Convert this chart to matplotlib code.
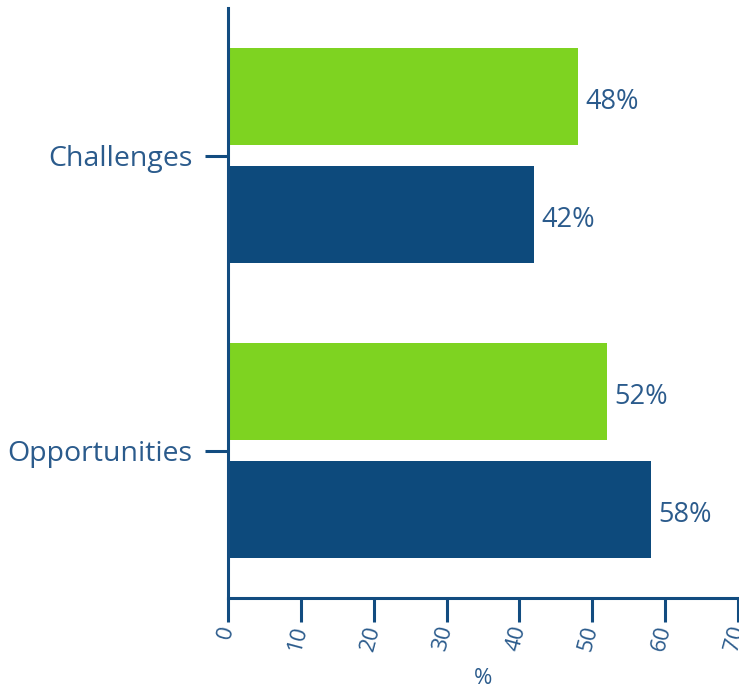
import numpy as np
import matplotlib.pyplot as plt

categories = ["Opportunities", "Challenges"]
green_values = [52, 48]
blue_values = [58, 42]
x_ticks = [0, 10, 20, 30, 40, 50, 60, 70]

green = "#7ED321"
blue = "#0D4A7C"
axis_color = "#124C80"
text_color = "#2B5B8C"

plt.rcParams['font.family'] = ['Open Sans', 'DejaVu Sans']

fig = plt.figure(figsize=(7.39, 6.92), dpi=100)
ax = fig.add_axes([228 / 739, 1 - 598 / 692, 510 / 739, 590 / 692])

y = np.arange(len(categories))
h = 0.33
off = 0.2
ax.barh(y + off, green_values, height=h, color=green)
ax.barh(y - off, blue_values, height=h, color=blue)

for yi, v in zip(y + off, green_values):
    ax.text(v + 1.0, yi - 0.02, f"{v}%", va="center", ha="left",
            fontsize=19.5, color=text_color)
for yi, v in zip(y - off, blue_values):
    ax.text(v + 1.0, yi - 0.02, f"{v}%", va="center", ha="left",
            fontsize=19.5, color=text_color)

ax.set_xlim(0, 70)
ax.set_ylim(-0.5, 1.5)
ax.set_yticks(y)
ax.set_yticklabels(categories, fontsize=20.5, color=text_color)
ax.set_xticks(x_ticks)
ax.set_xticklabels([str(t) for t in x_ticks], fontsize=16, color=text_color,
                   rotation=75, ha="right", va="center", rotation_mode="anchor")
ax.set_xlabel("%", fontsize=16, color=text_color, labelpad=11)

for side in ["top", "right"]:
    ax.spines[side].set_visible(False)
for side in ["left", "bottom"]:
    ax.spines[side].set_color(axis_color)
    ax.spines[side].set_linewidth(2.2)

ax.tick_params(axis="y", length=16.5, width=2.2, color=axis_color, pad=9)
ax.tick_params(axis="x", length=17, width=2.2, color=axis_color, pad=3)

fig.savefig("out.png", dpi=100)
